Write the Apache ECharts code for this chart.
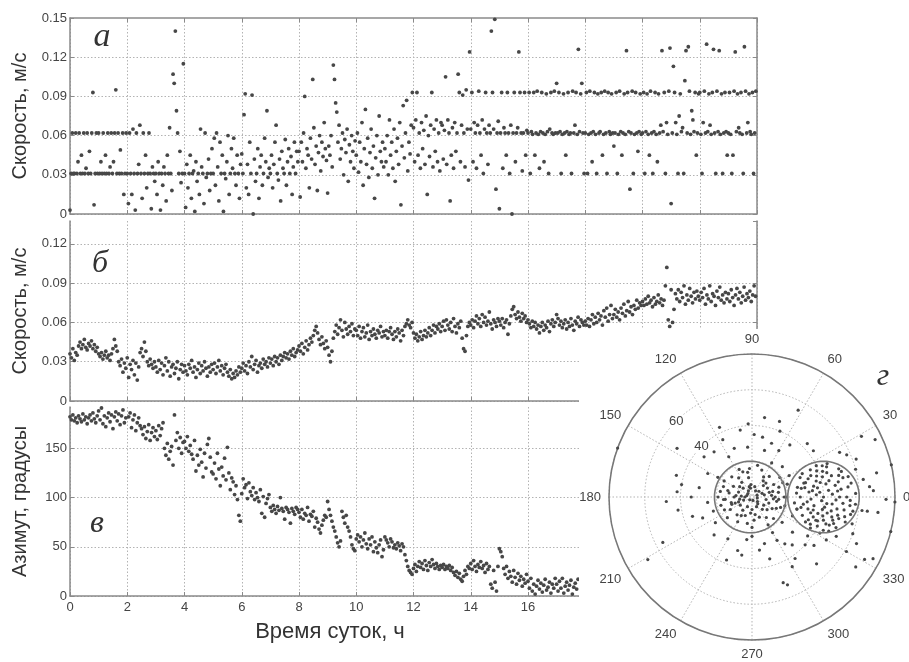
<!DOCTYPE html>
<html><head><meta charset="utf-8">
<script src="https://cdn.jsdelivr.net/npm/echarts@6/dist/echarts.min.js"></script>
<style>html,body{margin:0;padding:0;background:#fff}#c{width:909px;height:662px}</style>
</head><body><div id="c"></div>
<script>
// ---- Sampling step of each record, hours ----
const T_STEP_A = 0.04;
const T_STEP_B = 0.05;
const T_STEP_V = 0.05;

// (а) instantaneous speed, m/s (one row = one hour)
const speedA = [
.003,.031,.062,.031,.031,.062,.031,.040,.062,.031,.045,.031,.062,.031,.035,.062,.031,.048,.031,.062,.093,.007,.031,.062,.031,
.062,.031,.040,.031,.062,.031,.045,.031,.062,.031,.036,.062,.031,.040,.062,.095,.031,.062,.031,.049,.031,.062,.015,.031,.062,
.031,.008,.062,.031,.015,.065,.031,.003,.062,.031,.038,.068,.031,.012,.062,.031,.045,.020,.031,.062,.031,.004,.036,.031,.025,
.031,.015,.040,.031,.003,.031,.022,.036,.031,.010,.045,.031,.066,.031,.018,.107,.100,.140,.079,.062,.031,.048,.024,.031,.115,
.031,.005,.038,.020,.031,.045,.012,.031,.033,.002,.040,.025,.031,.015,.065,.036,.031,.008,.062,.028,.031,.042,.018,.031,.050,
.031,.058,.022,.062,.036,.010,.055,.031,.045,.002,.031,.027,.040,.060,.015,.031,.050,.035,.058,.031,.022,.045,.031,.012,.038,
.046,.031,.076,.092,.020,.038,.015,.055,.031,.091,.000,.042,.025,.031,.050,.012,.036,.045,.022,.031,.058,.040,.079,.028,.035,
.031,.045,.020,.038,.055,.068,.031,.026,.042,.010,.048,.035,.031,.057,.022,.040,.050,.031,.044,.015,.036,.055,.031,.048,.040,
.048,.013,.055,.040,.062,.090,.035,.050,.045,.020,.058,.042,.103,.066,.038,.052,.018,.047,.060,.033,.055,.044,.070,.050,.041,
.016,.052,.045,.060,.036,.114,.103,.085,.078,.055,.068,.042,.050,.062,.030,.057,.047,.065,.025,.053,.040,.060,.048,.035,.056,
.045,.062,.032,.055,.040,.070,.022,.050,.080,.038,.058,.028,.047,.065,.035,.052,.012,.043,.060,.030,.075,.048,.040,.055,.036,
.050,.040,.060,.030,.072,.045,.055,.035,.065,.025,.048,.058,.038,.070,.007,.052,.083,.043,.062,.087,.033,.055,.046,.068,.093,
.066,.040,.072,.093,.045,.062,.035,.070,.050,.064,.038,.075,.015,.060,.044,.068,.093,.036,.065,.048,.072,.040,.062,.033,.070,
.068,.042,.064,.105,.038,.072,.062,.010,.045,.066,.035,.070,.048,.062,.107,.093,.040,.068,.091,.062,.036,.095,.065,.026,.124,
.065,.093,.040,.070,.062,.035,.068,.094,.062,.045,.072,.031,.065,.093,.062,.038,.068,.062,.140,.093,.065,.149,.019,.062,.071,
.004,.062,.093,.035,.066,.062,.045,.093,.062,.031,.068,.000,.062,.093,.040,.062,.066,.124,.093,.062,.033,.062,.093,.045,.064,
.062,.093,.031,.063,.061,.093,.045,.062,.094,.061,.035,.063,.093,.062,.040,.061,.092,.063,.031,.065,.093,.062,.061,.094,.062,
.100,.062,.093,.063,.031,.061,.092,.062,.045,.063,.093,.061,.062,.031,.094,.062,.068,.093,.061,.126,.063,.092,.100,.062,.031,
.062,.093,.031,.061,.094,.062,.040,.063,.093,.061,.031,.092,.062,.063,.093,.045,.061,.094,.062,.031,.093,.063,.061,.092,.062,
.052,.062,.093,.031,.061,.094,.063,.045,.062,.092,.061,.125,.093,.063,.019,.062,.094,.031,.061,.093,.062,.048,.063,.092,.061,
.062,.093,.031,.063,.092,.061,.045,.094,.062,.031,.063,.093,.061,.040,.092,.062,.068,.125,.063,.093,.031,.070,.061,.094,.127,
.008,.062,.113,.093,.070,.061,.031,.075,.092,.063,.066,.031,.102,.125,.062,.128,.094,.061,.079,.072,.063,.093,.045,.062,.092,
.093,.061,.031,.070,.094,.062,.130,.063,.092,.068,.061,.093,.126,.062,.031,.094,.063,.125,.061,.092,.031,.062,.093,.063,.045,
.062,.093,.061,.031,.045,.094,.124,.063,.092,.066,.062,.093,.061,.031,.128,.094,.062,.070,.092,.063,.061,.093,.031,.062,.094
];

// (б) averaged speed, m/s (one row = one hour)
const speedB = [
.036,.033,.040,.031,.037,.035,.042,.045,.040,.043,.047,.041,.039,.044,.042,.046,.040,.043,.038,.041,
.036,.034,.037,.032,.035,.038,.033,.035,.031,.036,.040,.047,.042,.038,.030,.027,.032,.022,.029,.025,
.033,.018,.028,.024,.031,.020,.029,.016,.026,.037,.040,.034,.045,.038,.030,.027,.032,.028,.025,.030,
.026,.022,.031,.024,.029,.020,.027,.033,.023,.030,.019,.026,.028,.021,.025,.030,.017,.024,.028,.022,
.027,.023,.020,.028,.025,.031,.022,.026,.018,.024,.029,.021,.027,.023,.030,.025,.019,.026,.022,.028,
.024,.029,.021,.026,.031,.023,.027,.020,.025,.028,.022,.019,.024,.017,.021,.018,.023,.020,.026,.022,
.025,.029,.023,.027,.021,.030,.026,.034,.024,.028,.031,.022,.027,.029,.025,.032,.028,.030,.026,.033,
.029,.032,.027,.034,.030,.033,.028,.035,.031,.034,.037,.033,.036,.032,.038,.035,.040,.034,.037,.039,
.042,.038,.044,.036,.041,.046,.039,.043,.048,.045,.050,.054,.057,.052,.047,.043,.049,.044,.040,.046,
.041,.035,.030,.038,.048,.053,.058,.051,.056,.062,.054,.049,.060,.055,.051,.057,.053,.059,.050,.055,
.054,.050,.057,.048,.053,.056,.049,.052,.058,.047,.053,.050,.055,.051,.048,.054,.052,.057,.049,.053,
.050,.054,.048,.053,.056,.051,.047,.053,.049,.055,.052,.046,.054,.050,.057,.059,.062,.058,.056,.060,
.052,.048,.051,.046,.049,.053,.047,.050,.054,.049,.052,.056,.050,.054,.058,.052,.057,.055,.059,.053,
.057,.061,.054,.062,.058,.055,.060,.053,.063,.057,.052,.059,.056,.061,.048,.040,.038,.050,.057,.060,
.058,.062,.056,.061,.065,.059,.063,.057,.066,.060,.064,.058,.061,.068,.059,.055,.062,.060,.057,.063,
.061,.058,.063,.056,.060,.062,.051,.059,.065,.070,.072,.066,.063,.068,.064,.061,.067,.063,.065,.060,
.062,.059,.056,.061,.057,.060,.055,.058,.052,.057,.060,.054,.058,.056,.061,.053,.059,.062,.057,.060,
.066,.063,.058,.061,.056,.059,.062,.055,.060,.057,.063,.058,.054,.061,.059,.064,.057,.062,.060,.058,
.061,.058,.063,.057,.062,.066,.059,.064,.060,.067,.062,.065,.058,.069,.064,.071,.061,.066,.073,.063,
.066,.070,.064,.068,.062,.071,.067,.074,.065,.069,.076,.068,.072,.066,.073,.070,.077,.071,.075,.073,
.076,.073,.078,.074,.080,.075,.077,.072,.079,.074,.076,.081,.075,.078,.073,.077,.088,.102,.062,.057,
.085,.060,.070,.082,.078,.085,.076,.083,.079,.088,.074,.081,.077,.086,.080,.075,.083,.078,.084,.080,
.077,.083,.079,.086,.074,.081,.078,.088,.076,.082,.080,.073,.084,.079,.087,.077,.081,.075,.083,.078,
.082,.076,.085,.079,.073,.081,.086,.078,.083,.075,.080,.087,.077,.082,.079,.084,.076,.081,.088,.080
];

// (в) azimuth, degrees (one row = one hour)
const azimuthV = [
182,179,184,178,181,176,183,180,177,185,179,182,175,181,184,178,186,180,176,183,
188,179,191,175,183,172,181,186,177,184,170,182,187,178,185,174,183,189,176,181,
193,182,186,171,179,184,168,176,181,173,170,164,172,160,167,174,158,166,171,162,
168,159,173,163,170,176,150,143,155,139,147,152,133,184,158,166,150,161,145,156,
157,150,162,147,153,144,139,158,127,143,133,149,136,121,145,130,154,160,141,126,
124,135,119,145,129,112,131,122,140,118,151,125,108,120,116,103,112,98,82,76,
104,119,110,113,99,115,106,102,110,98,105,100,96,108,84,101,80,94,99,103,
90,86,92,88,84,91,87,100,89,86,78,90,88,85,74,89,86,83,90,88,
85,80,88,78,84,82,90,76,83,81,86,70,79,75,68,64,72,77,82,80,
96,88,82,76,70,66,60,54,50,56,86,80,74,82,70,66,60,52,48,46,
58,62,55,60,50,57,64,53,48,58,52,60,45,55,49,44,52,57,40,47,
60,57,54,50,58,55,49,52,48,54,51,46,53,50,42,36,30,26,24,22,
28,32,25,30,35,29,33,27,36,31,26,34,30,37,32,28,33,30,27,31,
29,32,27,30,28,31,26,29,24,21,25,19,23,17,15,20,26,22,30,28,
33,27,36,30,25,32,29,35,28,31,24,33,27,30,12,8,26,14,5,30,
48,45,40,28,22,30,18,25,20,14,26,19,12,23,16,20,10,17,13,22,
15,8,18,5,12,2,10,16,7,13,4,11,17,6,9,14,3,12,8,18,
12,5,15,8,18,3,10,14,6,11,16,2,9,13,7,17
];

// (г) hodograph points: [speed, direction in degrees]
const polarLeft = [
[3,20],[6,75],[9,140],[12,200],[15,260],[5,310],[8,350],[11,45],[14,100],[17,160],[2,230],[7,190],[10,280],[13,330],[16,20],[18,80],[4,120],[9,175],[12,240],[6,295],
[15,355],[10,15],[13,60],[16,135],[3,165],[8,215],[11,250],[14,305],[17,340],[5,40],[7,95],[12,150],[15,185],[18,220],[9,265],[4,320],[11,5],[14,30],[16,70],[6,105],
[10,125],[13,170],[17,205],[2,285],[8,325],[12,355],[15,110],[5,200],[9,235],[13,275],[18,300],[7,10],[11,55],[16,95],[3,140],[10,180],[14,210],[6,245],[12,290],[17,315],
[19,0],[19,25],[19,180],[18,195],[8,160],[4,60],[12,15],[15,335],[7,270],[10,340],[14,165],[5,100],[16,240],[9,45],[13,125],[18,150],[11,320],[6,20],[17,270],[3,350],
[19,345],[19,35],[18,170],[16,185],[12,195],[8,200],[14,350],[10,30],[15,50],[17,115],[13,230],[9,310],[11,100],[7,135],[15,10],[4,180],[18,0],[13,0],[6,175],[10,200]
];
const polarRight = [
[40,0],[35,10],[45,350],[30,15],[50,5],[38,340],[42,20],[55,355],[28,348],[46,15],[33,335],[48,342],[36,25],[52,12],[25,5],[58,2],[44,335],[31,355],[39,12],[47,358],
[34,345],[53,348],[41,352],[29,22],[45,22],[37,332],[50,340],[26,345],[56,8],[43,5],[32,5],[49,10],[38,18],[46,346],[35,352],[54,345],[40,26],[42,342],[30,340],[51,18],
[36,2],[44,12],[28,10],[57,352],[33,18],[47,336],[39,357],[52,352],[43,348],[37,8],[24,352],[48,4],[34,338],[55,12],[41,16],[45,355],[31,25],[50,14],[38,346],[44,340],
[27,0],[53,0],[36,342],[49,348],[42,10],[32,348],[46,24],[40,336],[58,356],[35,20],[47,8],[43,332],[30,10],[51,356],[39,22],[45,2],[33,358],[56,350],[41,345],[48,352],
[37,14],[54,6],[29,352],[44,18],[36,335],[42,355],[50,346],[34,6],[46,340],[38,4],[52,16],[40,350],[31,15],[47,344],[43,24],[35,348],[49,0],[26,12],[55,358],[39,340]
];
const polarScatter = [
[55,62],[45,81],[80,160],[68,211],[56,207],[50,147],[44,164],[42,176],[42,190],[35,198],[28,152],[25,187],[30,203],[43,115],[36,117],[41,93],[34,80],[40,67],[36,54],[43,44],
[43,37],[55,27],[70,29],[76,25],[71,11],[80,13],[75,359],[80,358],[62,353],[71,353],[80,346],[76,333],[72,331],[70,326],[61,330],[52,314],[51,290],[53,292],[36,286],[38,248],
[31,255],[24,263],[30,278],[28,300],[30,319],[48,330],[52,335],[68,3],[65,353],[63,9],[28,95],[32,70],[26,120],[38,100],[30,60],[24,45],[35,88],[27,75],[45,70],[33,130],
[22,60],[29,110],[22,320],[25,335],[23,300],[26,345],[21,20],[24,30],[27,285],[32,305],[35,310],[40,318],[44,322],[38,325],[22,270],[27,240],[33,260],[45,300],[42,305],[30,225],
[25,215],[60,340],[58,345],[64,336],[66,5],[60,15],[62,20],[58,24],[35,140],[40,170],[30,170],[48,183],[34,180],[22,150],[23,200]
];

const polarRings = [40, 60];            // labelled rings
const ringLabelAngle = 135;             // direction along which ring values are written
const refCircles = [                    // reference circles: centre (east, north) and radius
  { cx: -1, cy: 0, r: 20 },
  { cx: 40, cy: 0, r: 20 }
];

// ---- styles ----
const DOT = '#474747';
const AX = '#8a8a8a';
const GRIDC = '#b3b3b3';
const LBL = '#444';
const SANS = '"Liberation Sans", Arial, sans-serif';

const toSeries = (vals, step) => vals.map((v, i) => [Math.round(i * step * 100) / 100, v]);

function circlePts(c) {
  const pts = [];
  for (let k = 0; k <= 72; k++) {
    const a = k * 5 * Math.PI / 180;
    const x = c.cx + c.r * Math.cos(a), y = c.cy + c.r * Math.sin(a);
    let ang = Math.atan2(y, x) * 180 / Math.PI; if (ang < 0) ang += 360;
    pts.push([Math.hypot(x, y), ang]);
  }
  return pts;
}

function xAx(grid, opts) {
  return Object.assign({
    type: 'value', gridIndex: grid, min: 0, max: 24, interval: 2, position: 'bottom',
    axisLine: { show: true, onZero: false, lineStyle: { color: AX, width: 1.5 } },
    axisTick: { show: true, inside: true, length: 4, lineStyle: { color: AX } },
    axisLabel: { show: false },
    splitLine: { show: true, lineStyle: { color: GRIDC, type: [1.5, 2], width: 1 } }
  }, opts);
}
function yAx(grid, min, max, interval, name, opts) {
  return Object.assign({
    type: 'value', gridIndex: grid, min: min, max: max, interval: interval, position: 'left',
    name: name, nameLocation: 'middle', nameGap: 40, nameRotate: 90,
    nameTextStyle: { fontFamily: SANS, fontSize: 20, color: '#333' },
    axisLine: { show: true, onZero: false, lineStyle: { color: AX, width: 1.5 } },
    axisTick: { show: true, inside: true, length: 4, lineStyle: { color: AX } },
    axisLabel: { show: true, margin: 3, color: LBL, fontFamily: SANS, fontSize: 13, showMaxLabel: true },
    splitLine: { show: true, showMaxLine: false, lineStyle: { color: GRIDC, type: [1.5, 2], width: 1 } }
  }, opts);
}
function rightAx(grid, min, max, interval) {
  return {
    type: 'value', gridIndex: grid, min: min, max: max, interval: interval, position: 'right',
    axisLine: { show: true, onZero: false, lineStyle: { color: AX, width: 1.5 } },
    axisTick: { show: true, inside: true, length: 4, lineStyle: { color: AX } },
    axisLabel: { show: false }, splitLine: { show: false }
  };
}

const chart = echarts.init(document.getElementById('c'), null, { renderer: 'canvas' });
const dotStyle = { color: DOT, opacity: 1 };

chart.setOption({
  animation: false,
  backgroundColor: '#fff',
  grid: [
    { left: 70, top: 18, width: 687, height: 196, outerBoundsMode: 'none' },
    { left: 70, top: 221, width: 687, height: 180, outerBoundsMode: 'none' },
    { left: 70, top: 407, width: 687, height: 189, outerBoundsMode: 'none' }
  ],
  xAxis: [
    xAx(0, {}),
    xAx(0, { position: 'top', splitLine: { show: false } }),
    xAx(1, {}),
    xAx(2, { axisLabel: { show: true, margin: 5, color: LBL, fontFamily: SANS, fontSize: 13 } })
  ],
  yAxis: [
    yAx(0, 0, 0.15, 0.03, 'Скорость, м/с', {}),
    rightAx(0, 0, 0.15, 0.03),
    yAx(1, 0, 0.1375, 0.03, 'Скорость, м/с', { axisLabel: { show: true, margin: 3, color: LBL, fontFamily: SANS, fontSize: 13, showMaxLabel: false } }),
    rightAx(1, 0, 0.1375, 0.03),
    yAx(2, 0, 192, 50, 'Азимут, градусы', { axisLabel: { show: true, margin: 3, color: LBL, fontFamily: SANS, fontSize: 13, showMaxLabel: false } })
  ],
  polar: { center: [752, 497], radius: 143 },
  angleAxis: {
    type: 'value', min: 0, max: 360, interval: 30, startAngle: 0, clockwise: false, z: 60,
    axisLine: { show: true, lineStyle: { color: '#777', width: 1.5 } },
    axisTick: { show: false },
    axisLabel: { show: true, margin: 8, color: LBL, fontFamily: SANS, fontSize: 13 },
    splitLine: { show: true, lineStyle: { color: GRIDC, type: [1.5, 2], width: 1 } }
  },
  radiusAxis: {
    type: 'value', min: 0, max: 80, interval: 20, z: 60,
    axisLine: { show: false }, axisTick: { show: false }, axisLabel: { show: false },
    splitLine: { show: true, lineStyle: { color: GRIDC, type: [1.5, 2], width: 1 } }
  },
  graphic: [
    { type: 'rect', z: 50, silent: true, shape: { x: 579, y: 329, width: 330, height: 333 }, style: { fill: '#fff' } },
    { type: 'text', z: 80, x: 102, y: 37, style: { text: 'а', font: 'italic 34px "Liberation Serif", serif', fill: '#333', align: 'center', verticalAlign: 'middle' } },
    { type: 'text', z: 80, x: 100, y: 264, style: { text: 'б', font: 'italic 32px "Liberation Serif", serif', fill: '#333', align: 'center', verticalAlign: 'middle' } },
    { type: 'text', z: 80, x: 97, y: 524, style: { text: 'в', font: 'italic 32px "Liberation Serif", serif', fill: '#333', align: 'center', verticalAlign: 'middle' } },
    { type: 'text', z: 80, x: 883, y: 377, style: { text: 'г', font: 'italic 32px "Liberation Serif", serif', fill: '#333', align: 'center', verticalAlign: 'middle' } },
    { type: 'text', z: 80, x: 330, y: 632, style: { text: 'Время суток, ч', font: '22px "Liberation Sans", Arial, sans-serif', fill: '#333', align: 'center', verticalAlign: 'middle' } }
  ],
  series: [
    { type: 'scatter', xAxisIndex: 0, yAxisIndex: 0, data: toSeries(speedA, T_STEP_A), symbolSize: 3.8, itemStyle: dotStyle, silent: true },
    { type: 'scatter', xAxisIndex: 2, yAxisIndex: 2, data: toSeries(speedB, T_STEP_B), symbolSize: 3.8, itemStyle: dotStyle, silent: true },
    { type: 'scatter', xAxisIndex: 3, yAxisIndex: 4, data: toSeries(azimuthV, T_STEP_V), symbolSize: 3.8, itemStyle: dotStyle, silent: true },
    { type: 'scatter', coordinateSystem: 'polar', data: polarLeft.concat(polarRight, polarScatter), symbolSize: 3.2, itemStyle: dotStyle, z: 70, silent: true },
    ...refCircles.map(c => ({ type: 'line', coordinateSystem: 'polar', data: circlePts(c), showSymbol: false, symbol: 'none', smooth: false, z: 71, silent: true, lineStyle: { color: '#777', width: 1.6 } })),
    { type: 'scatter', coordinateSystem: 'polar', data: polarRings.map(r => [r, ringLabelAngle]), symbolSize: 0, z: 72, silent: true,
      itemStyle: { color: LBL, opacity: 1 },
      label: { show: true, position: 'inside', opacity: 1, formatter: p => String(p.value[0]), color: LBL, textBorderWidth: 0, fontFamily: SANS, fontSize: 13, backgroundColor: '#fff', padding: [0, 1] } }
  ]
});
</script>
</body></html>
